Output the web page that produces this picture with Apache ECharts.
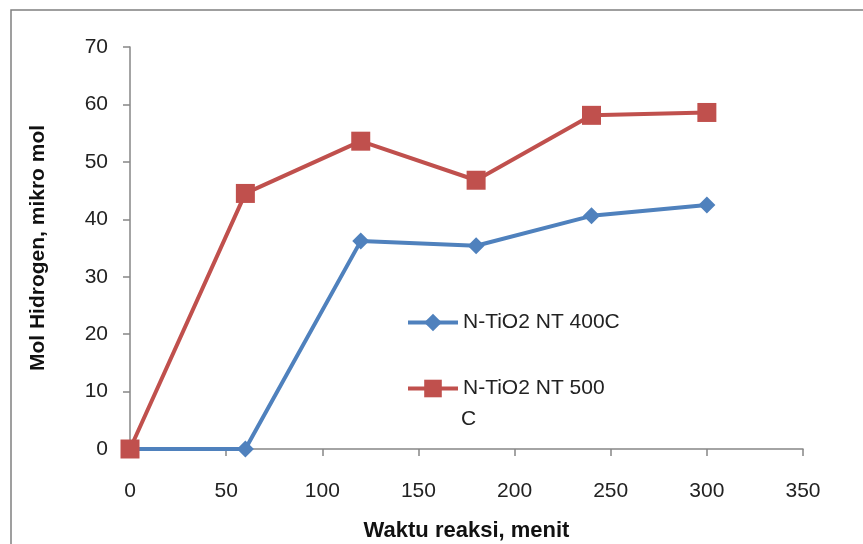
<!DOCTYPE html>
<html><head><meta charset="utf-8">
<script src="https://cdn.jsdelivr.net/npm/echarts@6/dist/echarts.min.js"></script>
<style>html,body{margin:0;padding:0;background:#fff}#c{width:863px;height:544px}</style>
</head><body><div id="c"></div>
<script>
const xValues = [0, 60, 120, 180, 240, 300];
const s400 = [0, 0, 36.2, 35.4, 40.6, 42.5];
const s500 = [0, 44.5, 53.6, 46.8, 58.1, 58.6];
const seriesNames = ['N-TiO2 NT 400C', 'N-TiO2 NT 500 C'];
const colors = ['#4F81BD', '#C0504D'];
const font = 'Liberation Sans';

const chart = echarts.init(document.getElementById('c'));
const lbl = {fontFamily: font, fontSize: 21, color: '#222'};
const legendCommon = {orient: 'vertical', left: 406, padding: 0, itemWidth: 50, itemHeight: 22, itemGap: 0,
  lineStyle: {width: 4}, textStyle: {fontFamily: font, fontSize: 21, color: '#222'}};
chart.setOption({
  animation: false,
  grid: {left: 130, right: 60, top: 47, bottom: 95, outerBoundsMode: 'none', containLabel: false},
  graphic: [
    {type: 'rect', shape: {x: 11, y: 10, width: 900, height: 600}, style: {fill: 'none', stroke: '#808080', lineWidth: 1.5}, z: 0},
    {type: 'text', left: 461, top: 409, style: {text: 'C', fontFamily: font, fontSize: 21, fill: '#222'}}
  ],
  legend: [
    Object.assign({data: [seriesNames[0]], top: 312}, legendCommon),
    Object.assign({data: [seriesNames[1]], top: 378, formatter: () => 'N-TiO2 NT 500'}, legendCommon)
  ],
  xAxis: {
    type: 'value', min: 0, max: 350, interval: 50,
    name: 'Waktu reaksi, menit', nameLocation: 'middle', nameGap: 71,
    nameTextStyle: {fontFamily: font, fontSize: 22, fontWeight: 'bold', color: '#111'},
    axisLine: {show: true, lineStyle: {color: '#868686', width: 1.5}},
    axisTick: {show: true, length: 7, lineStyle: {color: '#868686', width: 1.5}},
    axisLabel: Object.assign({margin: 32}, lbl),
    splitLine: {show: false}
  },
  yAxis: {
    type: 'value', min: 0, max: 70, interval: 10,
    name: 'Mol Hidrogen, mikro mol', nameLocation: 'middle', nameGap: 81,
    nameTextStyle: {fontFamily: font, fontSize: 21, fontWeight: 'bold', color: '#111'},
    axisLine: {show: true, lineStyle: {color: '#868686', width: 1.5}},
    axisTick: {show: true, length: 7, lineStyle: {color: '#868686', width: 1.5}},
    axisLabel: Object.assign({margin: 22}, lbl),
    splitLine: {show: false}
  },
  series: [
    {name: seriesNames[0], type: 'line', data: xValues.map((x, i) => [x, s400[i]]),
     symbol: 'diamond', symbolSize: 17, color: colors[0],
     lineStyle: {width: 4, color: colors[0]}, itemStyle: {color: colors[0]}},
    {name: seriesNames[1], type: 'line', data: xValues.map((x, i) => [x, s500[i]]),
     symbol: 'rect', symbolSize: 19, color: colors[1],
     lineStyle: {width: 4, color: colors[1]}, itemStyle: {color: colors[1]}}
  ]
});
</script></body></html>
